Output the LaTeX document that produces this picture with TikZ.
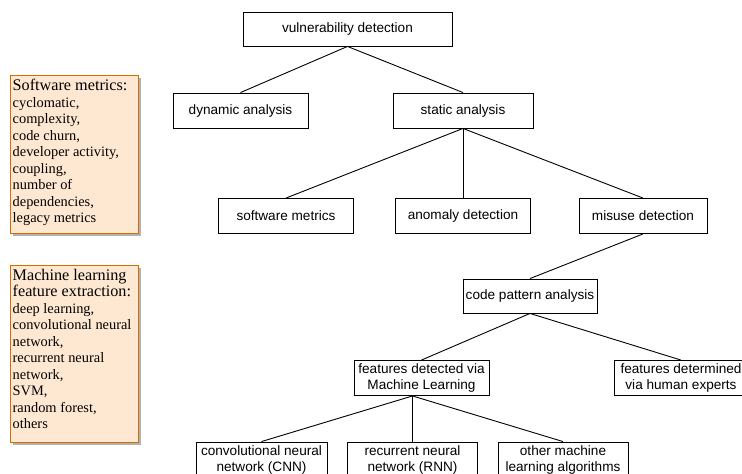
\documentclass[tikz,border=0pt]{standalone}
\usepackage{fontspec}
\setmainfont{Liberation Serif}
\setsansfont{Liberation Sans}
\usetikzlibrary{shadows}

\begin{document}
\begin{tikzpicture}[x=1pt,y=-1pt,
    box/.style={draw,line width=0.9pt,fill=white,inner sep=1pt,align=center,
      minimum height=35,font=\sffamily\fontsize{13.6}{16.5}\selectfont},
    notebox/.style={draw=orange!85!black,line width=0.9pt,fill=orange!18!white,
      drop shadow={shadow xshift=3pt,shadow yshift=-3pt,fill=black!30,opacity=1},
      anchor=north west,inner sep=0pt},
    notetext/.style={anchor=north west,align=left,inner sep=0pt,
      font=\fontsize{14.4}{16.5}\selectfont},
    link/.style={line width=0.9pt}]
  \useasboundingbox (0,0) rectangle (742,474);
  % tree of boxes
  \node[box,minimum width=209,minimum height=34] (vuln) at (347.5,29) {vulnerability detection};
  \node[box,minimum width=135] (dyn) at (240.5,110.5) {dynamic analysis};
  \node[box,minimum width=140] (stat) at (463,110.5) {static analysis};
  \node[box,minimum width=135] (swm) at (286,216) {software metrics};
  \node[box,minimum width=135] (anom) at (463,216) {anomaly detection};
  \node[box,minimum width=128] (misuse) at (643,216) {misuse detection};
  \node[box,minimum width=134,minimum height=34] (cpa) at (530,296) {code pattern analysis};
  \node[box,minimum width=135] (fdml) at (421.5,378) {features detected via\\Machine Learning};
  \node[box,minimum width=134] (fdhe) at (681,378) {features determined\\via human experts};
  \node[box,minimum width=131,minimum height=36] (cnn) at (261.5,460) {convolutional neural\\network (CNN)};
  \node[box,minimum width=130,minimum height=36] (rnn) at (412.5,460) {recurrent neural\\network (RNN)};
  \node[box,minimum width=130,minimum height=36] (other) at (563,460) {other machine\\learning algorithms};
  \coordinate (fdmlfoot) at (fdml.south -| rnn.north);
  % connectors
  \draw[link] (vuln.south) -- (dyn.north);
  \draw[link] (vuln.south) -- (stat.north);
  \draw[link] (stat.south) -- (swm.north);
  \draw[link] (stat.south) -- (anom.north);
  \draw[link] (stat.south) -- (misuse.north);
  \draw[link] (misuse.south) -- (cpa.north);
  \draw[link] (cpa.south) -- (fdml.north);
  \draw[link] (cpa.south) -- (fdhe.north);
  \draw[link] (fdmlfoot) -- (cnn.north);
  \draw[link] (fdmlfoot) -- (rnn.north);
  \draw[link] (fdmlfoot) -- (other.north);
  % side notes
  \node[notebox,minimum width=128,minimum height=158] (swnote) at (10,75) {};
  \node[notetext] (swtext) at ([xshift=2.5pt,yshift=-4pt]swnote.north west)
    {{\fontsize{16.2}{17}\selectfont Software metrics:}\\cyclomatic,\\complexity,\\code churn,\\developer activity,\\coupling,\\number of\\dependencies,\\legacy metrics};
  \node[notebox,minimum width=128,minimum height=177] (mlnote) at (10,265) {};
  \node[notetext] (mltext) at ([xshift=2.5pt,yshift=-4pt]mlnote.north west)
    {{\fontsize{16.2}{18}\selectfont Machine learning}\\{\fontsize{16.2}{18}\selectfont feature extraction:}\\deep learning,\\convolutional neural\\network,\\recurrent neural\\network,\\SVM,\\random forest,\\others};
\end{tikzpicture}
\end{document}
